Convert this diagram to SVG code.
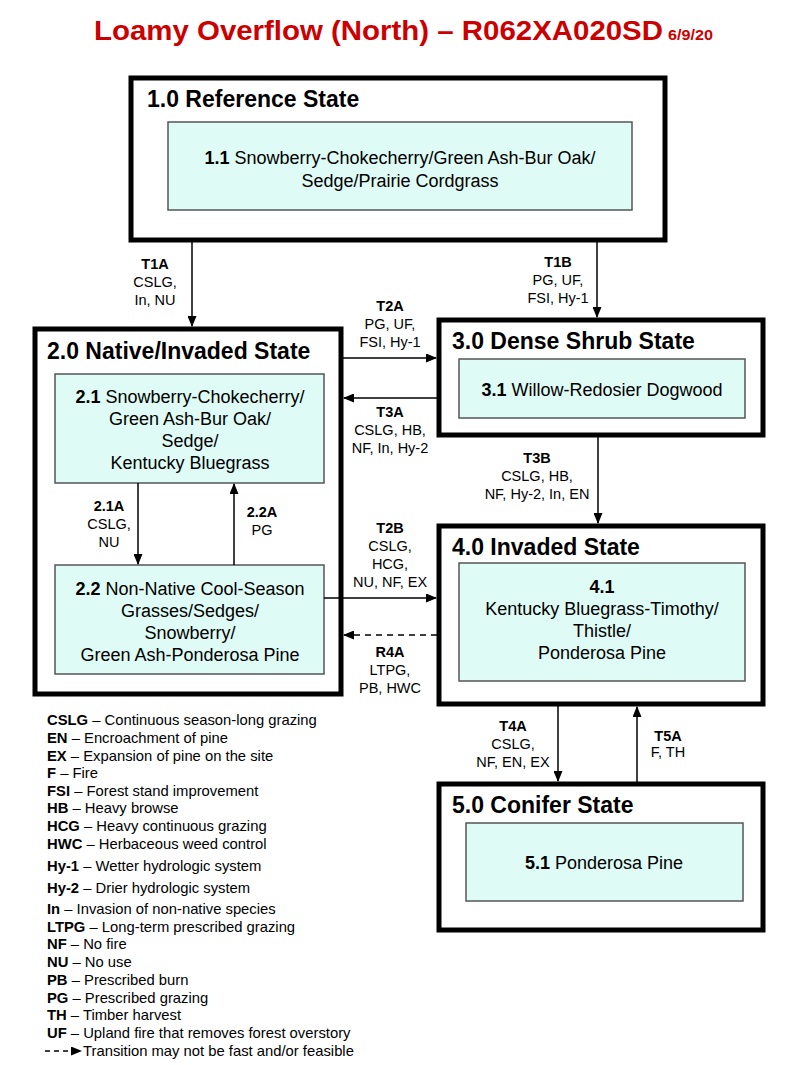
<svg xmlns="http://www.w3.org/2000/svg" width="800" height="1065" viewBox="0 0 800 1065">
<defs>
<marker id="ah" markerWidth="11" markerHeight="9" refX="10" refY="4.5" orient="auto" markerUnits="userSpaceOnUse">
<path d="M0,0 L11,4.5 L0,9 Z" fill="#000"/>
</marker>
</defs>
<style>
text{font-family:"Liberation Sans",Arial,sans-serif;fill:#000}
.state{fill:#fff;stroke:#000;stroke-width:5}
.comm{fill:#defbf5;stroke:#555;stroke-width:1.5}
.st{font-size:23px;font-weight:bold}
.ct{font-size:18px;text-anchor:middle}
.lb{font-size:14.5px;text-anchor:middle}
.lg{font-size:14.8px}
.b{font-weight:bold}
.cn{stroke:#000;stroke-width:1.5;fill:none;marker-end:url(#ah)}
.dash{stroke-dasharray:6,5}
</style>
<rect width="800" height="1065" fill="#fff"/>
<text x="94" y="40" font-size="28" font-weight="bold" style="fill:#cc0000" textLength="569" lengthAdjust="spacingAndGlyphs">Loamy Overflow (North) – R062XA020SD</text>
<text x="668" y="40" font-size="14" font-weight="bold" style="fill:#cc0000" textLength="45" lengthAdjust="spacingAndGlyphs">6/9/20</text>

<g id="state1">
<rect class="state" x="131" y="78" width="534" height="162"/>
<text class="st" x="147" y="107">1.0 Reference State</text>
<g id="comm1_1">
<rect class="comm" x="168" y="122" width="464" height="88"/>
<text class="ct" x="400" y="164"><tspan class="b">1.1</tspan> Snowberry-Chokecherry/Green Ash-Bur Oak/</text>
<text class="ct" x="400" y="187">Sedge/Prairie Cordgrass</text>
</g>
</g>

<g id="state2">
<rect class="state" x="35" y="329" width="306" height="365"/>
<text class="st" x="47" y="359">2.0 Native/Invaded State</text>
<g id="comm2_1">
<rect class="comm" x="55" y="374" width="269" height="109"/>
<text class="ct" x="190" y="403"><tspan class="b">2.1</tspan> Snowberry-Chokecherry/</text>
<text class="ct" x="190" y="425">Green Ash-Bur Oak/</text>
<text class="ct" x="190" y="447">Sedge/</text>
<text class="ct" x="190" y="469">Kentucky Bluegrass</text>
</g>
<g id="comm2_2">
<rect class="comm" x="55" y="565" width="269" height="109"/>
<text class="ct" x="190" y="595"><tspan class="b">2.2</tspan> Non-Native Cool-Season</text>
<text class="ct" x="190" y="617">Grasses/Sedges/</text>
<text class="ct" x="190" y="639">Snowberry/</text>
<text class="ct" x="190" y="661">Green Ash-Ponderosa Pine</text>
</g>
</g>

<g id="state3">
<rect class="state" x="439" y="320" width="324" height="115"/>
<text class="st" x="452" y="349">3.0 Dense Shrub State</text>
<g id="comm3_1">
<rect class="comm" x="459" y="359" width="286" height="59"/>
<text class="ct" x="602" y="396"><tspan class="b">3.1</tspan> Willow-Redosier Dogwood</text>
</g>
</g>

<g id="state4">
<rect class="state" x="439" y="526" width="324" height="178"/>
<text class="st" x="452" y="555">4.0 Invaded State</text>
<g id="comm4_1">
<rect class="comm" x="459" y="563" width="286" height="118"/>
<text class="ct b" x="602" y="593">4.1</text>
<text class="ct" x="602" y="615">Kentucky Bluegrass-Timothy/</text>
<text class="ct" x="602" y="637">Thistle/</text>
<text class="ct" x="602" y="659">Ponderosa Pine</text>
</g>
</g>

<g id="state5">
<rect class="state" x="439" y="784" width="324" height="146"/>
<text class="st" x="452" y="813">5.0 Conifer State</text>
<g id="comm5_1">
<rect class="comm" x="466" y="823" width="277" height="78"/>
<text class="ct" x="604" y="869"><tspan class="b">5.1</tspan> Ponderosa Pine</text>
</g>
</g>

<g id="connectors">
<line class="cn" x1="192" y1="242" x2="192" y2="326"/>
<line class="cn" x1="597" y1="242" x2="597" y2="317"/>
<line class="cn" x1="343" y1="358" x2="436" y2="358"/>
<line class="cn" x1="437" y1="398" x2="344" y2="398"/>
<line class="cn" x1="598" y1="437" x2="598" y2="523"/>
<line class="cn" x1="138" y1="483" x2="138" y2="564"/>
<line class="cn" x1="234" y1="565" x2="234" y2="484"/>
<line class="cn" x1="324" y1="598" x2="436" y2="598"/>
<line class="cn dash" x1="437" y1="635" x2="344" y2="635"/>
<line class="cn" x1="558" y1="706" x2="558" y2="781"/>
<line class="cn" x1="637" y1="782" x2="637" y2="707"/>
<g id="labels">
<text class="lb b" x="155" y="269">T1A</text>
<text class="lb" x="155" y="287">CSLG,</text>
<text class="lb" x="155" y="305">In, NU</text>
<text class="lb b" x="558" y="267">T1B</text>
<text class="lb" x="558" y="285">PG, UF,</text>
<text class="lb" x="558" y="303">FSI, Hy-1</text>
<text class="lb b" x="390" y="311">T2A</text>
<text class="lb" x="390" y="329">PG, UF,</text>
<text class="lb" x="390" y="347">FSI, Hy-1</text>
<text class="lb b" x="390" y="417">T3A</text>
<text class="lb" x="390" y="435">CSLG, HB,</text>
<text class="lb" x="390" y="453">NF, In, Hy-2</text>
<text class="lb b" x="537" y="463">T3B</text>
<text class="lb" x="537" y="481">CSLG, HB,</text>
<text class="lb" x="537" y="499">NF, Hy-2, In, EN</text>
<text class="lb b" x="109" y="511">2.1A</text>
<text class="lb" x="109" y="529">CSLG,</text>
<text class="lb" x="109" y="547">NU</text>
<text class="lb b" x="262" y="517">2.2A</text>
<text class="lb" x="262" y="535">PG</text>
<text class="lb b" x="390" y="533">T2B</text>
<text class="lb" x="390" y="551">CSLG,</text>
<text class="lb" x="390" y="569">HCG,</text>
<text class="lb" x="390" y="587">NU, NF, EX</text>
<text class="lb b" x="390" y="657">R4A</text>
<text class="lb" x="390" y="675">LTPG,</text>
<text class="lb" x="390" y="693">PB, HWC</text>
<text class="lb b" x="513" y="731">T4A</text>
<text class="lb" x="513" y="749">CSLG,</text>
<text class="lb" x="513" y="767">NF, EN, EX</text>
<text class="lb b" x="668" y="741">T5A</text>
<text class="lb" x="668" y="757">F, TH</text>
</g>
</g>

<g id="legend">
<text class="lg" x="47" y="725"><tspan class="b">CSLG</tspan> – Continuous season-long grazing</text>
<text class="lg" x="47" y="743"><tspan class="b">EN</tspan> – Encroachment of pine</text>
<text class="lg" x="47" y="761"><tspan class="b">EX</tspan> – Expansion of pine on the site</text>
<text class="lg" x="47" y="778"><tspan class="b">F</tspan> – Fire</text>
<text class="lg" x="47" y="796"><tspan class="b">FSI</tspan> – Forest stand improvement</text>
<text class="lg" x="47" y="813"><tspan class="b">HB</tspan> – Heavy browse</text>
<text class="lg" x="47" y="831"><tspan class="b">HCG</tspan> – Heavy continuous grazing</text>
<text class="lg" x="47" y="849"><tspan class="b">HWC</tspan> – Herbaceous weed control</text>
<text class="lg" x="47" y="871"><tspan class="b">Hy-1</tspan> – Wetter hydrologic system</text>
<text class="lg" x="47" y="893"><tspan class="b">Hy-2</tspan> – Drier hydrologic system</text>
<text class="lg" x="47" y="914"><tspan class="b">In</tspan> – Invasion of non-native species</text>
<text class="lg" x="47" y="932"><tspan class="b">LTPG</tspan> – Long-term prescribed grazing</text>
<text class="lg" x="47" y="949"><tspan class="b">NF</tspan> – No fire</text>
<text class="lg" x="47" y="967"><tspan class="b">NU</tspan> – No use</text>
<text class="lg" x="47" y="985"><tspan class="b">PB</tspan> – Prescribed burn</text>
<text class="lg" x="47" y="1003"><tspan class="b">PG</tspan> – Prescribed grazing</text>
<text class="lg" x="47" y="1020"><tspan class="b">TH</tspan> – Timber harvest</text>
<text class="lg" x="47" y="1038"><tspan class="b">UF</tspan> – Upland fire that removes forest overstory</text>
<line class="cn" x1="45" y1="1051" x2="81" y2="1051" stroke-dasharray="5,4" stroke-width="2"/>
<text class="lg" x="83" y="1056">Transition may not be fast and/or feasible</text>
</g>
</svg>
